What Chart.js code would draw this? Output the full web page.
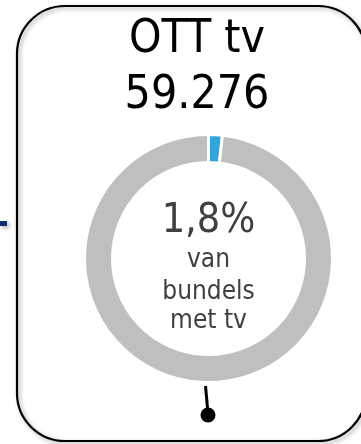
<!DOCTYPE html>
<html>
<head>
<meta charset="utf-8">
<script src="https://cdn.jsdelivr.net/npm/chart.js@4.4.1/dist/chart.umd.min.js"></script>
<style>
  html, body { margin: 0; padding: 0; background: #fff; }
  canvas { display: block; }
</style>
</head>
<body>
<canvas id="ott-chart" width="361" height="444"></canvas>
<script>
// Share of bundles with tv that use OTT tv
const labels = ['OTT tv', 'overig'];
const shares = [1.8, 98.2];
const colors = ['#2ea7e0', '#bfbfbf'];
const titleLines = ['OTT tv', '59.276'];
const subLines = ['van', 'bundels', 'met tv'];

const FONT = '"DejaVu Sans Condensed", "DejaVu Sans", sans-serif';

// Panel frame, headline and the centre text are drawn around the doughnut
const panelPlugin = {
    id: 'panel',
    beforeDraw(chart) {
        const ctx = chart.ctx;
        ctx.save();
        // connector stub coming in from the left
        ctx.shadowColor = 'rgba(0,0,0,0.35)';
        ctx.shadowBlur = 4;
        ctx.shadowOffsetX = 2;
        ctx.shadowOffsetY = 2;
        ctx.fillStyle = '#0e2c7a';
        ctx.fillRect(0, 221, 7, 5);

        // rounded panel outline
        ctx.strokeStyle = '#000';
        ctx.lineWidth = 2.2;
        ctx.beginPath();
        ctx.roundRect(17, 6, 349, 435, 48);
        ctx.stroke();
        ctx.restore();

        ctx.save();
        ctx.fillStyle = '#000';
        ctx.textAlign = 'center';
        ctx.textBaseline = 'alphabetic';
        ctx.font = '46px ' + FONT;
        ctx.fillText(titleLines[0], 197, 52);
        ctx.fillText(titleLines[1], 197, 108);
        ctx.restore();
    },
    afterDraw(chart) {
        const ctx = chart.ctx;
        const arc = chart.getDatasetMeta(0).data[0];
        const cx = arc.x;
        ctx.save();
        ctx.fillStyle = '#404040';
        ctx.textAlign = 'center';
        ctx.font = '41px ' + FONT;
        ctx.fillText(shares[0].toString().replace('.', ',') + '%', cx, 232);
        ctx.font = '26px ' + FONT;
        ctx.fillText(subLines[0], cx, 267);
        ctx.fillText(subLines[1], cx, 299);
        ctx.fillText(subLines[2], cx, 328);

        // pointer below the ring
        ctx.strokeStyle = '#000';
        ctx.fillStyle = '#000';
        ctx.lineWidth = 3;
        ctx.beginPath();
        ctx.moveTo(205.5, 386);
        ctx.lineTo(207.5, 408);
        ctx.stroke();
        ctx.beginPath();
        ctx.arc(208, 415, 7.5, 0, Math.PI * 2);
        ctx.fill();
        ctx.restore();
    }
};

new Chart(document.getElementById('ott-chart'), {
    type: 'doughnut',
    data: {
        labels: labels,
        datasets: [{
            data: shares,
            backgroundColor: colors,
            borderColor: '#fff',
            borderWidth: 3,
            radius: 124,
            cutout: 96
        }]
    },
    options: {
        responsive: false,
        animation: false,
        layout: { padding: { left: 83, top: 133, right: 27, bottom: 60 } },
        plugins: {
            legend: { display: false },
            tooltip: { enabled: false }
        }
    },
    plugins: [panelPlugin]
});
</script>
</body>
</html>
